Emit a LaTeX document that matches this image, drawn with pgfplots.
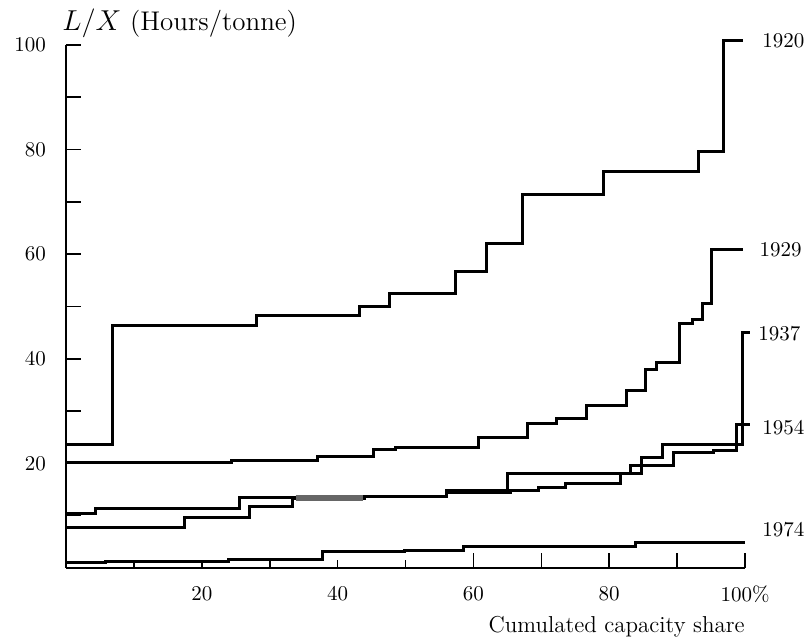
\documentclass[border=0pt]{standalone}
\usepackage{pgfplots}
\pgfplotsset{compat=1.18}
\begin{document}
\begin{tikzpicture}
\begin{axis}[
  scale only axis, width=339.5pt, height=261.5pt,
  xmin=0, xmax=100, ymin=0, ymax=100,
  axis x line*=bottom, axis y line*=left,
  clip=false,
  tick align=inside,
  major tick length=7.5pt,
  xtick={60,70,80,90,100}, xticklabels={60,,80,,100\%},
  extra x ticks={10,20,30,40,50}, extra x tick labels={,20,,40,},
  extra x tick style={major tick length=4pt},
  ytick={10,20,...,100}, yticklabels={,20,,40,,60,,80,,100},
  axis line style={line width=0.9pt},
  every tick/.style={line width=0.8pt, black},
  xticklabel style={yshift=-5.6pt, font=\fontsize{10.5}{12}\selectfont},
  yticklabel style={xshift=-6.5pt, font=\fontsize{10.5}{12}\selectfont},
]
\addplot[const plot, line width=1.5pt, black] coordinates {
 (0,23.7)(6.8,46.3)(28,48.2)(43.2,50.0)(47.7,52.4)(57.4,56.6)(61.9,62.0)
 (67.3,71.5)(79.1,75.9)(93.2,79.7)(96.8,100.8)(99.7,100.8)};
\addplot[const plot, line width=1.5pt, black] coordinates {
 (0,20.1)(24.4,20.6)(37.0,21.4)(45.3,22.6)(48.5,23.1)(60.7,24.9)(68.0,27.7)
 (72.3,28.5)(76.7,31.0)(82.6,34.0)(85.3,37.9)(86.9,39.2)(90.3,46.7)(92.3,47.6)
 (93.8,50.5)(95.1,60.8)(99.7,60.8)};
\addplot[const plot, line width=1.5pt, black] coordinates {
 (0,10.5)(4.4,11.3)(25.6,13.4)(44.0,13.7)(56.1,14.9)(65.0,18.0)(83.1,19.5)
 (84.8,21.1)(87.9,23.7)(99.7,45.0)(100.8,45.0)};
\addplot[const plot, line width=1.5pt, black] coordinates {
 (0,7.8)(17.5,9.6)(27.0,11.7)(33.4,13.3)(44.0,13.6)(56.1,14.5)(65.4,14.9)
 (69.6,15.4)(73.5,16.1)(81.6,18.1)(84.8,19.5)(89.4,22.0)(95.3,22.4)(98.7,27.4)
 (100.8,27.4)};
\addplot[const plot, line width=1.5pt, black] coordinates {
 (0,1.0)(5.8,1.3)(23.9,1.7)(37.8,3.1)(49.9,3.4)(58.6,4.2)(83.8,4.8)(100,4.8)};
\addplot[line width=3pt, black!60] coordinates {(33.8,13.4)(43.8,13.4)};
\begin{scope}[every node/.style={inner sep=0pt, font=\fontsize{10.5}{12}\selectfont}]
\node[anchor=west] at (axis cs:102.5,100.8) {1920};
\node[anchor=west] at (axis cs:102.1,60.8) {1929};
\node[anchor=west] at (axis cs:101.9,44.9) {1937};
\node[anchor=west] at (axis cs:102.5,26.8) {1954};
\node[anchor=west] at (axis cs:102.5,7.3) {1974};
\end{scope}
\node[anchor=west, inner sep=0pt, font=\fontsize{13.5}{16}\selectfont] at (axis cs:-0.6,104.2) {$L/X$ (Hours/tonne)};
\node[anchor=east, inner sep=0pt, font=\fontsize{11.5}{13}\selectfont] at (axis cs:100,-11.3) {Cumulated capacity share};
\path (axis cs:-9.72,108.6) rectangle (axis cs:109.13,-13.77);
\end{axis}
\end{tikzpicture}
\end{document}
